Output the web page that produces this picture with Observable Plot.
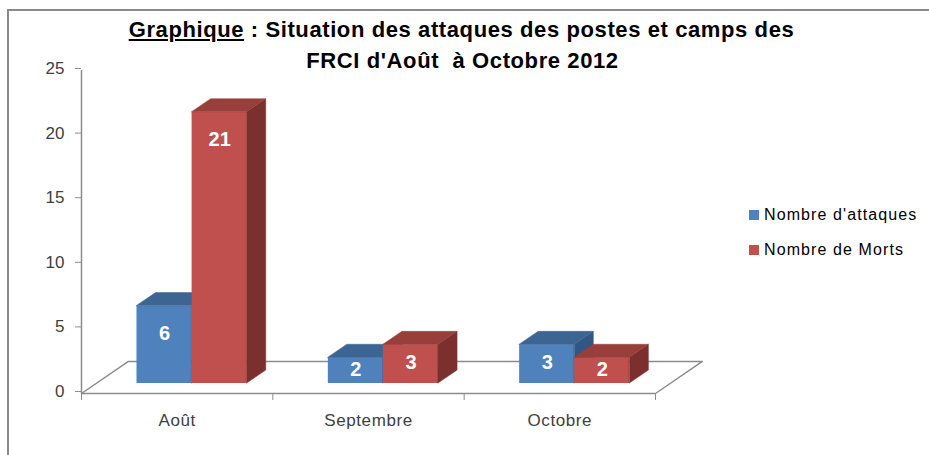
<!DOCTYPE html>
<html>
<head>
<meta charset="utf-8">
<script src="https://cdn.jsdelivr.net/npm/d3@7"></script>
<script src="https://cdn.jsdelivr.net/npm/@observablehq/plot@0.6"></script>
<style>
  html, body { margin: 0; padding: 0; background: #fff; }
  #wrap { position: relative; width: 929px; height: 455px; overflow: hidden; font-family: "Liberation Sans", Arial, sans-serif; }
  #border { position: absolute; left: 7px; top: 9px; width: 960px; height: 480px; border: 2px solid #8a8a8a; box-sizing: border-box; pointer-events: none; }
  #title { position: absolute; left: 0; width: 929px; top: 14px; text-align: center; font-weight: bold; font-size: 22px; line-height: 31px; color: #000; letter-spacing: 0.6px; }
  #title .l1 { position: relative; left: -3px; }
  #title .l2 { position: relative; left: -2px; }
  .legend { position: absolute; left: 749px; font-size: 16px; color: #000; letter-spacing: 1.1px; white-space: nowrap; }
  .legend span.sw { display: inline-block; width: 10px; height: 10px; margin-right: 5px; vertical-align: 0px; }
  #chart { position: absolute; left: 0; top: 0; }
  #chart svg g[aria-label="x-axis tick label"] text { letter-spacing: 0.6px; }
</style>
</head>
<body>
<div id="wrap">
  <div id="chart"></div>
  <div id="title"><div class="l1"><u>Graphique</u> : Situation des attaques des postes et camps des</div><div class="l2">FRCI d'Août&nbsp; à Octobre 2012</div></div>
  <div id="legend"></div>
  <div id="border"></div>
</div>
<script>
// ---- data ----
const months = ["Août", "Septembre", "Octobre"];
const seriesNames = ["Nombre d'attaques", "Nombre de Morts"];
const attaques = [6, 2, 3];
const morts = [21, 3, 2];
const yTicks = [0, 5, 10, 15, 20, 25];

// ---- styles ----
const frontColors = ["#4F81BD", "#C0504D"];
const topColors = ["#3D6593", "#983E3B"];
const sideColors = ["#335784", "#7B302E"];

// 3D geometry (in scale units)
const groupShift = 0.078, barW = 0.288, depthX = 0.0995, depthY = 1.0;
const floorDX = 0.245, floorDY = 2.48;
const barDy = -10;

const seriesValues = [attaques, morts];
const rows = [];
seriesValues.forEach((vals, s) => {
  vals.forEach((v, i) => {
    const x1 = i + 0.5 + groupShift + (s - 1) * barW;
    rows.push({ month: months[i], series: seriesNames[s], s, i, value: v, x1, x2: x1 + barW, id: s + "-" + i });
  });
});

const marks = [];
// floor outline
marks.push(Plot.line([
  { x: 0, y: 0 }, { x: floorDX, y: floorDY }, { x: 3 + floorDX, y: floorDY }, { x: 3, y: 0 }
], { x: "x", y: "y", stroke: "#8c8c8c", strokeWidth: 1.5 }));
marks.push(Plot.ruleY([0], { x1: 0, x2: 3, stroke: "#8c8c8c", strokeWidth: 1.5 }));
marks.push(Plot.ruleX([0], { y1: 0, y2: 25, stroke: "#8c8c8c", strokeWidth: 1.5 }));

for (let s = 0; s < 2; s++) {
  const R = rows.filter(d => d.s === s);
  marks.push(Plot.rectY(R, { x1: "x1", x2: "x2", y1: 0, y2: "value", fill: frontColors[s], dy: barDy }));
  const side = R.flatMap(d => [
    { id: d.id, x: d.x2, y1: 0, y2: d.value },
    { id: d.id, x: d.x2 + depthX, y1: depthY, y2: d.value + depthY }
  ]);
  marks.push(Plot.areaY(side, { x: "x", y1: "y1", y2: "y2", z: "id", fill: sideColors[s], stroke: sideColors[s], strokeWidth: 0.5, dy: barDy }));
  const top = R.flatMap(d => [
    { id: d.id, y: d.value, x1: d.x1, x2: d.x2 },
    { id: d.id, y: d.value + depthY, x1: d.x1 + depthX, x2: d.x2 + depthX }
  ]);
  marks.push(Plot.areaX(top, { y: "y", x1: "x1", x2: "x2", z: "id", fill: topColors[s], stroke: topColors[s], strokeWidth: 0.5, dy: barDy }));
}

// value labels
marks.push(Plot.text(rows, {
  x: d => (d.x1 + d.x2) / 2,
  y: d => Math.max(d.value * 0.55, d.value - 2.15),
  text: d => String(d.value),
  fill: "white", fontWeight: "bold", fontSize: 20, dy: barDy,
  fontFamily: "Liberation Sans, Arial, sans-serif"
}));

// axes
marks.push(Plot.axisY({ ticks: yTicks, tickSize: 6, tickPadding: 11, fontSize: 17, dy: -2, color: "#404040", stroke: "#8c8c8c", label: null }));
marks.push(Plot.axisX({ ticks: [0, 1, 2, 3], tickFormat: () => "", tickSize: 7, stroke: "#8c8c8c", label: null }));
marks.push(Plot.axisX({ ticks: months.map((m, i) => i + 0.5), tickFormat: d => months[Math.floor(d)], tickSize: 0, tickPadding: 20, fontSize: 17, color: "#404040", label: null }));

const chart = Plot.plot({
  width: 929,
  height: 455,
  marginLeft: 81,
  marginRight: 274,
  marginTop: 70,
  marginBottom: 62,
  x: { type: "linear", domain: [0, 3], range: [81, 655] },
  y: { type: "linear", domain: [0, 25], range: [393, 70] },
  style: { fontFamily: "Liberation Sans, Arial, sans-serif", fontSize: "16px", background: "transparent", overflow: "visible" },
  marks
});
document.getElementById("chart").appendChild(chart);

// legend
const leg = document.getElementById("legend");
seriesNames.forEach((name, s) => {
  const div = document.createElement("div");
  div.className = "legend";
  div.style.top = (206 + s * 35) + "px";
  div.innerHTML = `<span class="sw" style="background:${frontColors[s]}"></span>${name}`;
  leg.appendChild(div);
});
</script>
</body>
</html>
